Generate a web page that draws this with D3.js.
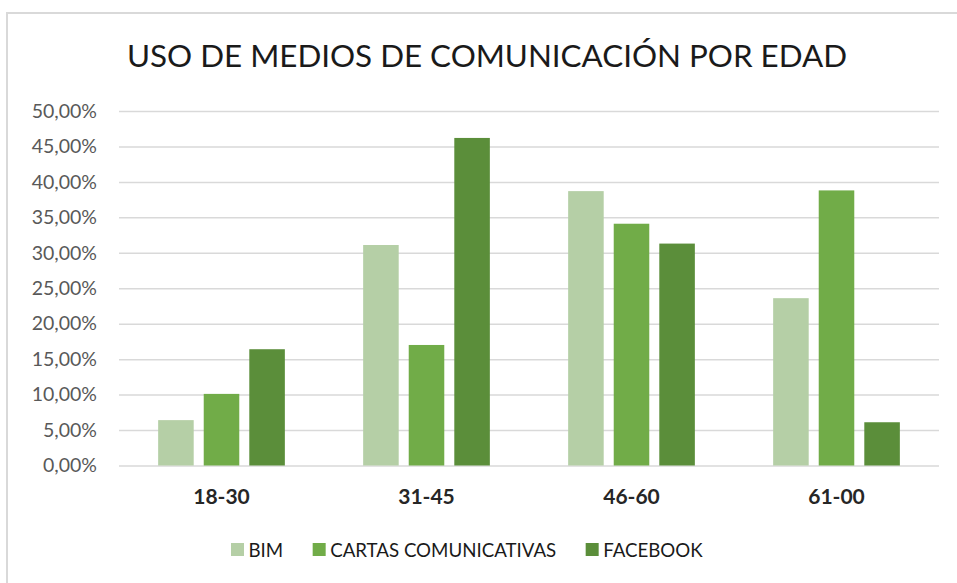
<!DOCTYPE html>
<html>
<head>
<meta charset="utf-8">
<script src="https://cdn.jsdelivr.net/npm/d3@7"></script>
<style>
  html, body { margin: 0; padding: 0; background: #fff; }
  svg { display: block; font-family: Lato, "Liberation Sans", Arial, sans-serif; }
</style>
</head>
<body>
<svg id="chart" width="957" height="583"></svg>
<script>
(function () {
const title = "USO DE MEDIOS DE COMUNICACIÓN POR EDAD";
const categories = ["18-30", "31-45", "46-60", "61-00"];
const seriesNames = ["BIM", "CARTAS COMUNICATIVAS", "FACEBOOK"];
const bim = [0.064, 0.311, 0.387, 0.236];
const cartas = [0.101, 0.170, 0.341, 0.388];
const facebook = [0.164, 0.462, 0.313, 0.061];
const colors = ["#b5cfa6", "#71ac48", "#5b8e3a"];
const yTicks = [0, 0.05, 0.10, 0.15, 0.20, 0.25, 0.30, 0.35, 0.40, 0.45, 0.50];

const seriesValues = [bim, cartas, facebook];
const svg = d3.select("#chart");
const FONT = "Lato, 'Liberation Sans', Arial, sans-serif";

// chart frame
svg.append("path")
  .attr("d", "M7,583 L7,13 L957,13")
  .attr("fill", "none").attr("stroke", "#d9d9d9").attr("stroke-width", 2);

// title
svg.append("text")
  .attr("x", 487).attr("y", 67)
  .attr("text-anchor", "middle")
  .attr("font-size", 30.5)
  .attr("font-family", FONT)
  .attr("fill", "#1a1a1a")
  .attr("textLength", 720)
  .attr("lengthAdjust", "spacingAndGlyphs")
  .text(title);

const mLeft = 119, mRight = 939, mTop = 111, mBottom = 465.5;
const y = d3.scaleLinear().domain([0, 0.5]).range([mBottom, mTop]);
const x0 = d3.scaleBand().domain(categories).range([mLeft, mRight]).padding(0);

const locale = d3.formatLocale({decimal: ",", thousands: ".", grouping: [3], currency: ["", "€"], percent: "%"});
const fmt = locale.format(".2%");

// y axis with gridlines
const yAxis = svg.append("g")
  .attr("transform", `translate(${mLeft},0)`)
  .call(d3.axisLeft(y).tickValues(yTicks).tickFormat(fmt)
    .tickSizeInner(-(mRight - mLeft)).tickSizeOuter(0).tickPadding(22));
yAxis.select(".domain").remove();
yAxis.selectAll(".tick line").attr("stroke", "#d9d9d9").attr("stroke-width", 1.5);
yAxis.selectAll(".tick text").attr("fill", "#595959").attr("font-size", 19.5)
  .attr("font-family", FONT);

// bars
const groupWidth = 126.7;
const x1 = d3.scaleBand().domain(seriesNames).range([-groupWidth / 2, groupWidth / 2]).paddingInner(0.22);

const groups = svg.append("g").selectAll("g")
  .data(categories)
  .join("g")
  .attr("transform", d => `translate(${x0(d) + x0.bandwidth() / 2},0)`);

groups.selectAll("rect")
  .data((c, i) => seriesNames.map((s, j) => ({s, j, v: seriesValues[j][i]})))
  .join("rect")
  .attr("x", d => x1(d.s))
  .attr("width", x1.bandwidth())
  .attr("y", d => y(d.v))
  .attr("height", d => y(0) - y(d.v))
  .attr("fill", d => colors[d.j]);

// x axis labels
const xAxis = svg.append("g")
  .attr("transform", `translate(0,${mBottom})`)
  .call(d3.axisBottom(x0).tickSize(0).tickPadding(23.5));
xAxis.select(".domain").remove();
xAxis.selectAll(".tick text").attr("fill", "#262626").attr("font-size", 21)
  .attr("font-weight", "bold")
  .attr("font-family", FONT);

// legend
const legend = svg.append("g");
let lx = 231;
seriesNames.forEach((name, j) => {
  legend.append("rect").attr("x", lx).attr("y", 543).attr("width", 13).attr("height", 13)
    .attr("fill", colors[j]);
  const t = legend.append("text").attr("x", lx + 17.5).attr("y", 556.5)
    .attr("font-size", 18.7).attr("font-family", FONT).attr("fill", "#1a1a1a").text(name);
  lx += 17.5 + t.node().getComputedTextLength() + 29.5;
});
})();
</script>
</body>
</html>
